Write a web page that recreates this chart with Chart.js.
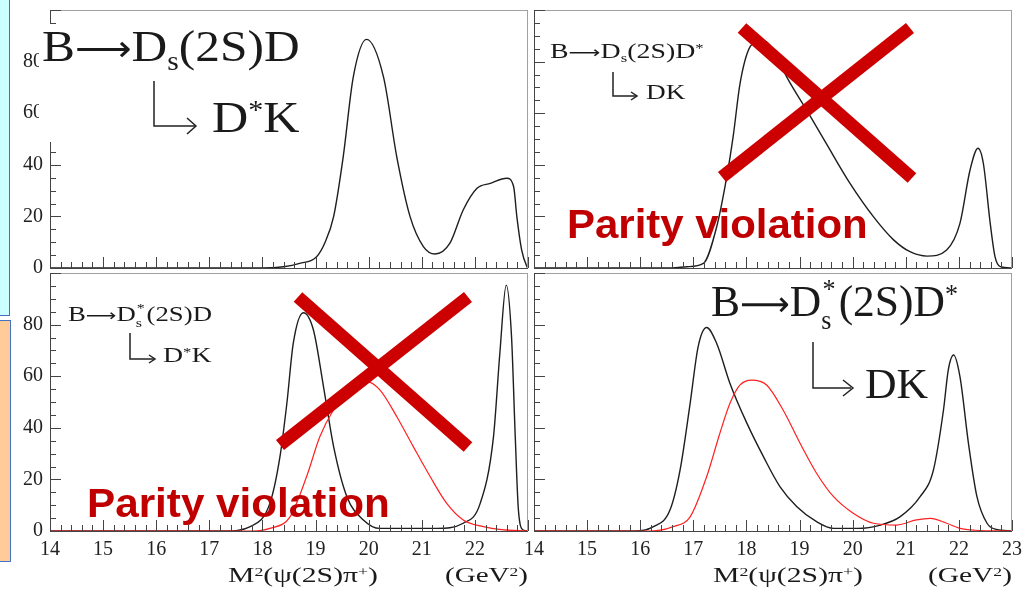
<!DOCTYPE html>
<html>
<head>
<meta charset="utf-8">
<script src="https://cdn.jsdelivr.net/npm/chart.js@4.4.1/dist/chart.umd.min.js"></script>
<style>
  html, body { margin: 0; padding: 0; background: #fff; }
  #page { position: relative; width: 1025px; height: 589px; overflow: hidden; }
  canvas { position: absolute; left: 0; top: 0; }
  .lbl { position: absolute; white-space: nowrap; line-height: 1; transform-origin: 0 0;
         font-family: "Liberation Serif", "DejaVu Serif", serif; color: #1a1a1a; }
  .lbl sub { font-size: 0.6em; vertical-align: -0.35em; line-height: 0; }
  .lbl sup { font-size: 0.6em; vertical-align: 0.5em; line-height: 0; }
  .arr { font-family: "DejaVu Sans", sans-serif; font-size: 0.8em; }
  .ss { display: inline-block; position: relative; width: 0.4em; height: 0.8em; }
  .ss .up { position: absolute; left: 0.05em; top: -0.17em; font-size: 0.6em; }
  .ss .dn { position: absolute; left: 0; top: 1em; font-size: 0.6em; }
  .pv { position: absolute; white-space: nowrap; line-height: 1; transform-origin: 0 0;
        font-family: "Liberation Sans", Arial, sans-serif; font-weight: bold; color: #c00000; }
</style>
</head>
<body>
<div id="page">
  <div style="position:absolute;left:0;top:0;width:9px;height:315px;background:#ccffff;border-right:1px solid #4472c4;border-bottom:1px solid #4472c4"></div>
  <div style="position:absolute;left:0;top:320px;width:10px;height:240px;background:#ffcc99;border:1px solid #4472c4;border-left:none"></div>

  <canvas id="tl" width="1025" height="589"></canvas>
  <canvas id="tr" width="1025" height="589"></canvas>
  <canvas id="bl" width="1025" height="589"></canvas>
  <canvas id="br" width="1025" height="589"></canvas>

  <!-- decay labels -->
  <div style="position:absolute;left:39px;top:24px;width:267px;height:118px;background:#fff"></div>
  <div class="lbl" data-w="258" style="left:42px;top:24px;font-size:45px">B<span class="arr">⟶</span>D<sub>s</sub>(2S)D</div>
  <div class="lbl" data-w="88" style="left:212px;top:95px;font-size:45px">D<sup>*</sup>K</div>

  <div class="lbl" data-w="154" style="left:550px;top:41px;font-size:21px">B<span class="arr">⟶</span>D<sub>s</sub>(2S)D<sup>*</sup></div>
  <div class="lbl" data-w="39" style="left:646px;top:82px;font-size:21px">DK</div>

  <div class="lbl" data-w="144" style="left:68px;top:304px;font-size:21px">B<span class="arr">⟶</span>D<span class="ss"><span class="up">*</span><span class="dn">s</span></span>(2S)D</div>
  <div class="lbl" data-w="49" style="left:163px;top:345px;font-size:21px">D<sup>*</sup>K</div>

  <div class="lbl" data-w="247" style="left:711px;top:280px;font-size:44px;background:#fff">B<span class="arr">⟶</span>D<span class="ss"><span class="up">*</span><span class="dn">s</span></span>(2S)D<sup>*</sup></div>
  <div class="lbl" data-w="63" style="left:865px;top:362px;font-size:43px">DK</div>

  <!-- axis titles -->
  <div class="lbl" data-w="150" style="left:228px;top:565px;font-size:21px">M<sup>2</sup>(ψ(2S)π<sup>+</sup>)</div>
  <div class="lbl" data-w="83" style="left:445px;top:565px;font-size:21px">(GeV<sup>2</sup>)</div>
  <div class="lbl" data-w="150" style="left:713px;top:565px;font-size:21px">M<sup>2</sup>(ψ(2S)π<sup>+</sup>)</div>
  <div class="lbl" data-w="84" style="left:928px;top:565px;font-size:21px">(GeV<sup>2</sup>)</div>

  <svg width="1025" height="589" style="position:absolute;left:0;top:0">
    <g fill="none" stroke="#222" stroke-width="1.5">
      <path d="M154 81 V126 H195"/><path d="M187 118 L196 126 L187 134"/>
      <path d="M613 72 V96 H636"/><path d="M631 92 L637 96 L631 100"/>
      <path d="M130 333 V359 H154"/><path d="M149 355 L155 359 L149 363"/>
      <path d="M813 342 V388 H851"/><path d="M843 380 L853 388 L843 396"/>
    </g>
    <g stroke="#cc0000" stroke-width="13" fill="none">
      <line x1="742" y1="28" x2="912" y2="178"/>
      <line x1="910" y1="28" x2="722" y2="177"/>
      <line x1="298" y1="297" x2="468" y2="447"/>
      <line x1="468" y1="297" x2="280" y2="445"/>
    </g>
  </svg>

  <div class="pv" data-w="301" style="left:567px;top:204px;font-size:40px">Parity violation</div>
  <div class="pv" data-w="303" style="left:87px;top:483px;font-size:40px">Parity violation</div>
</div>

<script>
// B -> Ds(2S) D, Ds -> D* K   (top left)
const tlX = [14, 18.0, 18.4, 18.7, 19.02, 19.18, 19.34, 19.52, 19.71, 19.96, 20.28, 20.53, 20.78, 21.03, 21.25, 21.53, 21.78, 22.04, 22.29, 22.6, 22.73, 22.79, 22.88, 22.98, 23];
const tlY = [0, 0, 0.5, 1.8, 4.4, 10, 19.9, 43, 74, 88.6, 74, 43, 19.9, 8.3, 5.4, 9.6, 22.5, 30.9, 32.8, 34.8, 31.5, 19.9, 7, 0.5, 0];

// B -> Ds(2S) D*, Ds -> D K   (top right)
const trX = [14, 16.6, 16.88, 17.19, 17.44, 17.63, 17.75, 17.88, 18.07, 18.29, 18.51, 18.76, 19.14, 19.51, 19.95, 20.39, 20.77, 21.08, 21.4, 21.77, 22.02, 22.21, 22.36, 22.46, 22.59, 22.68, 22.78, 23];
const trY = [0, 0, 0.5, 1.8, 16, 35.4, 51, 71.6, 85.8, 88.4, 84.5, 74, 61, 48, 32.8, 19.9, 10.9, 6.3, 4.6, 7, 17.3, 38, 46.4, 40.6, 17.3, 4.4, 0.5, 0];

// B -> Ds*(2S) D, Ds* -> D* K   (bottom left)
const blX = [14, 17.3, 17.77, 18.14, 18.33, 18.46, 18.58, 18.77, 18.96, 19.15, 19.34, 19.59, 19.9, 20.21, 21.28, 21.78, 22.1, 22.35, 22.47, 22.59, 22.69, 22.76, 22.82, 22.91, 23];
const blY = [0, 0, 1.7, 10.7, 28.8, 49.5, 72.7, 84.6, 77.9, 55.9, 32.7, 13.3, 4.3, 1, 1, 3, 10.7, 36.5, 68.9, 95.3, 75.3, 36.5, 8, 0.4, 0];
const blRedX = [14, 17.8, 18.14, 18.52, 18.83, 19.08, 19.34, 19.65, 19.96, 20.21, 20.53, 20.84, 21.16, 21.47, 21.78, 22.16, 22.5, 23];
const blRedY = [0, 0, 1, 5.5, 21, 36.5, 47, 54.7, 57.9, 54.7, 44.3, 32.7, 21, 10.7, 4.3, 1.7, 0.5, 0];

// B -> Ds*(2S) D*, Ds* -> D K   (bottom right)
const brX = [14, 15.9, 16.25, 16.56, 16.75, 16.94, 17.09, 17.25, 17.44, 17.69, 18.01, 18.32, 18.63, 18.95, 19.32, 19.64, 20.1, 20.52, 20.89, 21.27, 21.52, 21.71, 21.8, 21.9, 22.02, 22.18, 22.34, 22.53, 22.71, 23];
const brY = [0, 0, 1.7, 8.1, 23.6, 49.5, 71.4, 78.9, 72.7, 57.2, 41.7, 28.8, 17.2, 9.4, 3.6, 1, 1, 2.3, 5.5, 13.3, 23.6, 46.9, 62.4, 68.2, 59.8, 34, 13.3, 3, 0.6, 0];
const brRedX = [14, 16.2, 16.62, 16.94, 17.25, 17.5, 17.69, 17.88, 18.1, 18.38, 18.69, 19.01, 19.32, 19.64, 20.01, 20.39, 20.83, 21.2, 21.46, 21.77, 22.02, 22.3, 23];
const brRedY = [0, 0, 1.7, 5.5, 21, 37.9, 49.5, 56.6, 58.5, 56.6, 46.9, 34, 22.4, 13.3, 6.9, 3, 2.3, 4.3, 4.9, 3, 1, 0.3, 0];

const xMin = 14, xMax = 23, yMin = 0, yMax = 100;

const W = 1025, H = 589;
const tickFont = { family: '"Liberation Serif", "DejaVu Serif", serif', size: 20 };

// ROOT style frame with ticks pointing inwards
const rootFrame = {
  id: 'rootFrame',
  afterDatasetsDraw(chart) {
    const { ctx, chartArea: a, scales: { x, y } } = chart;
    ctx.save();
    ctx.lineWidth = 1;
    ctx.strokeStyle = '#a0a0a0';
    ctx.strokeRect(a.left + 0.5, a.top + 0.5, a.right - a.left - 1, a.bottom - a.top);
    ctx.strokeStyle = '#444';
    ctx.beginPath();
    ctx.moveTo(a.left + 0.5, a.top);
    ctx.lineTo(a.left + 0.5, a.bottom + 0.5);
    ctx.lineTo(a.right, a.bottom + 0.5);
    for (let k = 0; k <= 45; k++) {
      const px = Math.round(x.getPixelForValue(xMin + k * 0.2)) + 0.5;
      const len = k % 5 === 0 ? 11 : 6;
      ctx.moveTo(px, a.bottom);
      ctx.lineTo(px, a.bottom - len);
    }
    for (let k = 0; k <= 20; k++) {
      const py = Math.round(y.getPixelForValue(k * 5)) + 0.5;
      const len = k % 4 === 0 ? 11 : 6;
      ctx.moveTo(a.left, py);
      ctx.lineTo(a.left + len, py);
    }
    ctx.stroke();
    ctx.restore();
  }
};

function line(xs, ys, color, width) {
  return {
    data: xs.map((x, i) => ({ x: x, y: ys[i] })),
    borderColor: color,
    borderWidth: width,
    pointRadius: 0,
    fill: false,
    cubicInterpolationMode: 'monotone'
  };
}

function noPad(s) {
  s.paddingTop = 0; s.paddingBottom = 0; s.paddingLeft = 0; s.paddingRight = 0;
}

function panel(id, area, datasets, showY, showX, hideLast) {
  const xScale = {
    type: 'linear', min: xMin, max: xMax, display: showX,
    grid: { display: false, drawTicks: false }, border: { display: false },
    ticks: { stepSize: 1, autoSkip: false, maxRotation: 0, padding: 7, font: tickFont, color: '#222',
             callback: v => (hideLast && v === xMax) ? '' : v }
  };
  if (showX) xScale.afterFit = s => { s.height = 40; noPad(s); };
  const yScale = {
    type: 'linear', min: yMin, max: yMax, display: showY,
    grid: { display: false, drawTicks: false }, border: { display: false },
    ticks: { stepSize: 20, padding: 7, font: tickFont, color: '#222',
             callback: v => v === yMax ? '' : v }
  };
  if (showY) yScale.afterFit = s => { s.width = 50; noPad(s); };

  new Chart(document.getElementById(id), {
    type: 'line',
    data: { datasets: datasets },
    options: {
      responsive: false,
      animation: false,
      events: [],
      layout: { padding: {
        left: showY ? area.l - 50 : area.l,
        top: area.t,
        right: W - area.r,
        bottom: H - area.b - (showX ? 40 : 0)
      } },
      plugins: { legend: { display: false }, tooltip: { enabled: false } },
      scales: { x: xScale, y: yScale }
    },
    plugins: [rootFrame]
  });
}

const black = '#1e1e1e', red = '#ff2020';

panel('tl', { l: 50, t: 10, r: 528, b: 268 }, [line(tlX, tlY, black, 1.4)], true, false, true);
panel('tr', { l: 534, t: 10, r: 1012, b: 268 }, [line(trX, trY, black, 1.4)], false, false, false);
panel('bl', { l: 50, t: 273, r: 528, b: 531 },
      [line(blRedX, blRedY, red, 1.2), line(blX, blY, black, 1.4)], true, true, true);
panel('br', { l: 534, t: 273, r: 1012, b: 531 },
      [line(brRedX, brRedY, red, 1.2), line(brX, brY, black, 1.4)], false, true, false);

// stretch the overlay texts to the widths seen in the picture
document.querySelectorAll('[data-w]').forEach(el => {
  const w = +el.dataset.w;
  el.style.transform = 'scaleX(' + (w / el.offsetWidth) + ')';
});
</script>
</body>
</html>
